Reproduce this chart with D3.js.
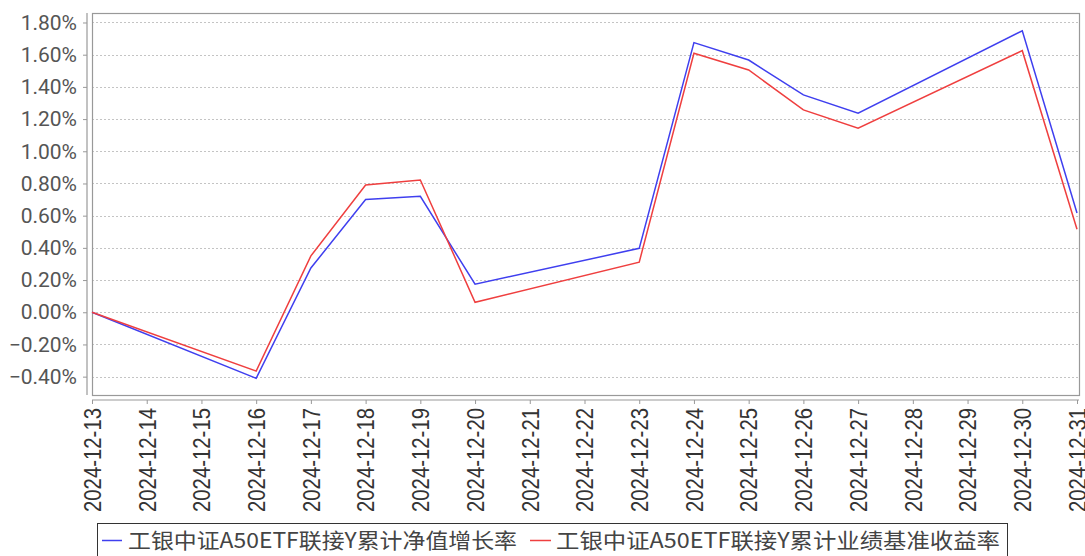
<!DOCTYPE html>
<html>
<head>
<meta charset="utf-8">
<script src="https://cdn.jsdelivr.net/npm/d3@7"></script>
<style>
  html, body { margin: 0; padding: 0; background: #fff; }
  svg { display: block; }
</style>
</head>
<body>
<svg id="chart" width="1085" height="556"></svg>
<script>
const dates = ["2024-12-13","2024-12-16","2024-12-17","2024-12-18","2024-12-19","2024-12-20","2024-12-23","2024-12-24","2024-12-25","2024-12-26","2024-12-27","2024-12-30","2024-12-31"];
const navGrowth = [0.00, -0.41, 0.275, 0.70, 0.72, 0.174, 0.397, 1.675, 1.567, 1.350, 1.236, 1.749, 0.617];
const benchGrowth = [0.00, -0.365, 0.35, 0.79, 0.822, 0.062, 0.311, 1.609, 1.505, 1.257, 1.143, 1.625, 0.516];
const seriesNames = ["工银中证A50ETF联接Y累计净值增长率", "工银中证A50ETF联接Y累计业绩基准收益率"];
const seriesColors = ["#3f3fef", "#ef3f3f"];
const yTicks = [-0.4, -0.2, 0, 0.2, 0.4, 0.6, 0.8, 1.0, 1.2, 1.4, 1.6, 1.8];
const xStart = "2024-12-13", xEnd = "2024-12-31";

const parse = d3.timeParse("%Y-%m-%d");
const fmt = d3.timeFormat("%Y-%m-%d");
const svg = d3.select("#chart");

const L = 92, R = 1077, T = 13, B = 395;
const x = d3.scaleTime().domain([parse(xStart), parse(xEnd)]).range([L, R]);
const y = d3.scaleLinear().domain([-0.514, 1.859]).range([B, T]);

// gridlines
svg.append("g").selectAll("line").data(yTicks).join("line")
  .attr("x1", L).attr("x2", R + 2)
  .attr("y1", d => Math.round(y(d)) + 0.5).attr("y2", d => Math.round(y(d)) + 0.5)
  .attr("stroke", "#c4c4c4").attr("stroke-width", 1).attr("stroke-dasharray", "2,2");

// frame
svg.append("rect").attr("x", L + 0.5).attr("y", T + 0.5)
  .attr("width", R + 2 - L).attr("height", B - T)
  .attr("fill", "none").attr("stroke", "#999").attr("stroke-width", 1.2);

// y axis
const yAxis = svg.append("g").attr("transform", "translate(87,0)")
  .call(d3.axisLeft(y).tickValues(yTicks).tickSize(4).tickPadding(6)
    .tickFormat(d => d3.format(".2f")(d) + "%"));
yAxis.select(".domain").attr("stroke", "#999").attr("stroke-width", 1.2).attr("d", `M0,${T}V${B}`);
yAxis.selectAll(".tick line").attr("stroke", "#999");
yAxis.selectAll("text").attr("font-family", "Roboto, 'Liberation Sans', sans-serif")
  .attr("font-size", 21).attr("fill", "#555");

// x axis
const xTickDates = d3.timeDay.range(parse(xStart), d3.timeDay.offset(parse(xEnd), 1));
const xAxis = svg.append("g").attr("transform", "translate(0,400)")
  .call(d3.axisBottom(x).tickValues(xTickDates).tickSize(4).tickFormat(fmt));
xAxis.select(".domain").attr("stroke", "#999").attr("stroke-width", 1.2).attr("d", `M${L},0H${R + 2}`);
xAxis.selectAll(".tick line").attr("stroke", "#999");
xAxis.selectAll("text")
  .attr("font-family", "'Liberation Sans', Arial, sans-serif")
  .attr("font-size", 23).attr("fill", "#333")
  .attr("text-anchor", "end")
  .attr("transform", "rotate(-90)")
  .attr("x", -8).attr("y", 0).attr("dy", "0.36em")
  .attr("textLength", 104).attr("lengthAdjust", "spacingAndGlyphs");

// lines
const line = d3.line().x(d => x(d.date)).y(d => y(d.v));
[navGrowth, benchGrowth].forEach((vals, i) => {
  const data = dates.map((d, j) => ({ date: parse(d), v: vals[j] }));
  svg.append("path").datum(data).attr("d", line)
    .attr("fill", "none").attr("stroke", seriesColors[i]).attr("stroke-width", 1.5)
    .attr("stroke-linejoin", "miter");
});

// legend
svg.append("rect").attr("x", 97.5).attr("y", 523.5).attr("width", 910).attr("height", 40)
  .attr("fill", "#fff").attr("stroke", "#333").attr("stroke-width", 1);
const legendItems = [
  { x0: 102, x1: 122, tx: 128, tl: 389 },
  { x0: 530, x1: 551, tx: 556, tl: 444 }
];
legendItems.forEach((it, i) => {
  svg.append("line").attr("x1", it.x0).attr("x2", it.x1).attr("y1", 540.5).attr("y2", 540.5)
    .attr("stroke", seriesColors[i]).attr("stroke-width", 1.5);
  svg.append("text").attr("x", it.tx).attr("y", 548)
    .attr("font-family", "'Noto Sans CJK SC', sans-serif").attr("font-size", 21)
    .attr("fill", "#444")
    .attr("textLength", it.tl).attr("lengthAdjust", "spacingAndGlyphs")
    .text(seriesNames[i]);
});
</script>
</body>
</html>
